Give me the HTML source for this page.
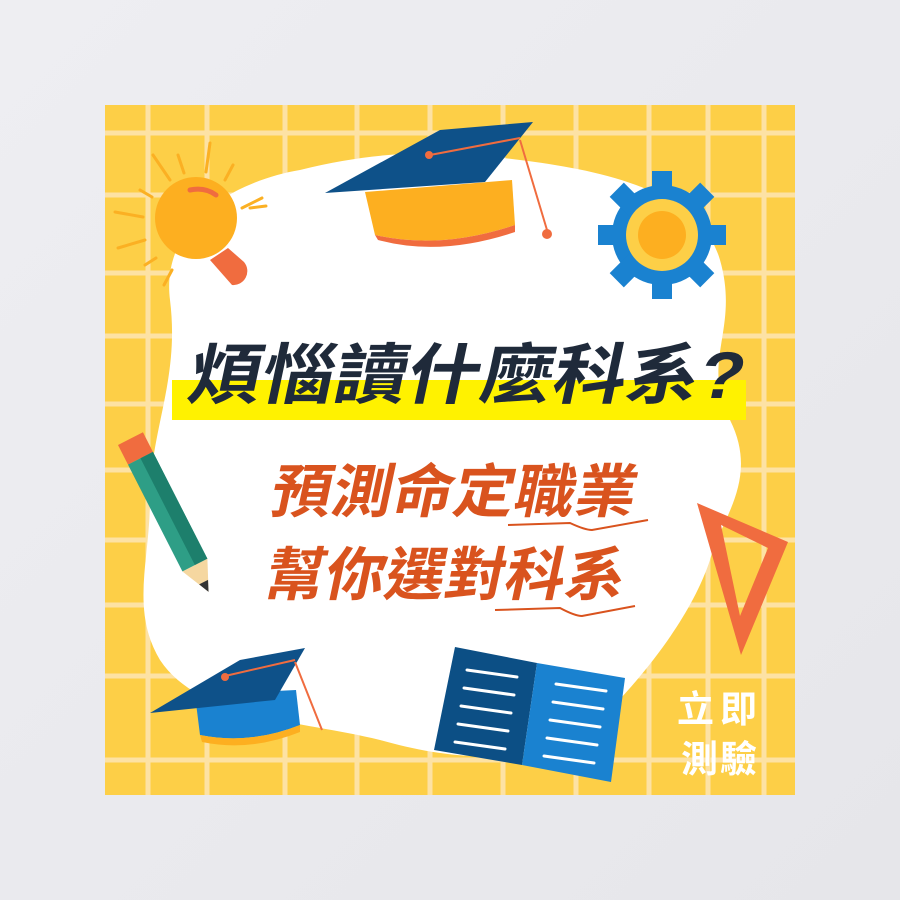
<!DOCTYPE html>
<html><head><meta charset="utf-8">
<style>
html,body{margin:0;padding:0;}
body{width:900px;height:900px;background:linear-gradient(135deg,#eeeef2,#e6e6ea);overflow:hidden;font-family:"Liberation Sans","Noto Sans CJK TC",sans-serif;}
svg{display:block}
</style></head>
<body>
<svg width="900" height="900" viewBox="0 0 900 900">
<g>
<rect x="105" y="105" width="690" height="690" fill="#fdcf47"/>
<g stroke="#fde2a4" stroke-width="5">
<line x1="148" y1="105" x2="148" y2="795"/><line x1="207" y1="105" x2="207" y2="795"/>
<line x1="285" y1="105" x2="285" y2="795"/><line x1="357" y1="105" x2="357" y2="795"/>
<line x1="430" y1="105" x2="430" y2="795"/><line x1="503" y1="105" x2="503" y2="795"/>
<line x1="576" y1="105" x2="576" y2="795"/><line x1="649" y1="105" x2="649" y2="795"/>
<line x1="708" y1="105" x2="708" y2="795"/><line x1="764" y1="105" x2="764" y2="795"/>
<line x1="105" y1="133" x2="795" y2="133"/><line x1="105" y1="195" x2="795" y2="195"/>
<line x1="105" y1="273" x2="795" y2="273"/><line x1="105" y1="336" x2="795" y2="336"/>
<line x1="105" y1="404" x2="795" y2="404"/><line x1="105" y1="470" x2="795" y2="470"/>
<line x1="105" y1="540" x2="795" y2="540"/><line x1="105" y1="605" x2="795" y2="605"/>
<line x1="105" y1="676" x2="795" y2="676"/><line x1="105" y1="760" x2="795" y2="760"/>
</g></g>
<path fill="#fff" d="M170 300 C160 220 240 180 300 170 C380 150 440 150 520 160 C600 170 700 190 720 260 C740 330 700 360 730 420 C760 480 720 520 710 560 C690 620 640 680 600 720 C540 770 450 760 380 740 C300 720 200 720 160 660 C130 610 150 560 150 500 C150 430 180 380 170 300 Z"/>
<g>
<g stroke="#fbb023" stroke-width="3" stroke-linecap="round">
<line x1="153" y1="155" x2="170" y2="180"/><line x1="178" y1="155" x2="184" y2="173"/>
<line x1="210" y1="143" x2="206" y2="172"/><line x1="233" y1="165" x2="225" y2="180"/>
<line x1="140" y1="190" x2="152" y2="197"/><line x1="115" y1="212" x2="143" y2="217"/>
<line x1="118" y1="248" x2="145" y2="240"/><line x1="145" y1="265" x2="156" y2="258"/>
<line x1="164" y1="285" x2="172" y2="270"/><line x1="242" y1="208" x2="262" y2="198"/>
<line x1="250" y1="208" x2="266" y2="206"/></g>
<path d="M210 260 L232 285 A14 14 0 0 0 244 262 L228 248 Z" fill="#f06c3f"/>
<circle cx="196" cy="218" r="41" fill="#fdaf20"/>
<path d="M190 190 Q205 187 216 195" stroke="#f06c3f" stroke-width="5" fill="none" stroke-linecap="round"/>
</g>
<g>
<path d="M365 192 L375 235 Q440 250 515 225 L512 180 Z" fill="#fdaf20"/>
<path d="M375 235 Q440 250 515 225 L515 232 Q440 257 378 240 Z" fill="#f06c3f"/>
<path d="M325 193 L440 130 L533 122 L485 182 Z" fill="#0e5189"/>
<line x1="430" y1="155" x2="520" y2="138" stroke="#f06c3f" stroke-width="2"/>
<circle cx="429" cy="155" r="4" fill="#f06c3f"/>
<line x1="520" y1="140" x2="547" y2="230" stroke="#f06c3f" stroke-width="2"/>
<circle cx="547" cy="234" r="5" fill="#f06c3f"/>
</g>
<g transform="translate(662,235)">
<g fill="#1a82d0">
<circle r="50"/>
<rect x="-10" y="-64" width="20" height="128"/><rect x="-64" y="-10" width="128" height="20"/>
<rect x="-10" y="-64" width="20" height="128" transform="rotate(45)"/><rect x="-10" y="-64" width="20" height="128" transform="rotate(-45)"/>
</g>
<circle r="36" fill="#fdcf47"/><circle r="24" fill="#fdaf20"/>
</g>
<g transform="translate(118,445) rotate(-27)">
<rect x="0" y="0" width="28" height="22" fill="#f06c3f"/>
<rect x="0" y="22" width="28" height="120" fill="#2e9e86"/>
<rect x="14" y="22" width="14" height="120" fill="#1d7f6c"/>
<path d="M0 142 L28 142 L14 172 Z" fill="#f5d7a0"/>
<path d="M9 161 L19 161 L14 172 Z" fill="#333"/>
</g>
<g>
<path d="M195 695 L200 735 Q250 745 300 725 L296 690 Z" fill="#1a82d0"/>
<path d="M200 735 Q250 745 300 725 L300 732 Q250 752 202 742 Z" fill="#fdaf20"/>
<path d="M150 713 L240 660 L305 648 L275 700 Z" fill="#0e5189"/>
<line x1="225" y1="676" x2="295" y2="660" stroke="#f06c3f" stroke-width="2"/>
<circle cx="225" cy="677" r="4" fill="#f06c3f"/>
<line x1="295" y1="662" x2="322" y2="730" stroke="#f06c3f" stroke-width="2"/>
</g>
<g>
<path d="M455 647 L537 663 L522 765 L434 750 Z" fill="#0c4f85"/>
<path d="M537 663 L625 678 L611 782 L522 765 Z" fill="#1a82d0"/>
<g stroke="#fff" stroke-width="3" stroke-linecap="round">
<line x1="467" y1="670" x2="517" y2="677"/><line x1="464" y1="688" x2="514" y2="695"/>
<line x1="461" y1="706" x2="511" y2="713"/><line x1="458" y1="724" x2="508" y2="731"/>
<line x1="455" y1="742" x2="505" y2="749"/>
<line x1="556" y1="684" x2="606" y2="691"/><line x1="553" y1="702" x2="603" y2="709"/>
<line x1="550" y1="720" x2="600" y2="727"/><line x1="547" y1="738" x2="597" y2="745"/>
<line x1="544" y1="756" x2="594" y2="763"/></g>
</g>
<g>
<path d="M697 503 L788 542 L741 655 Z M721 525 L740 616 L768 548 Z" fill="#f06c3f" fill-rule="evenodd"/>
</g>
<rect x="172" y="380" width="574" height="40" fill="#fff200"/>
<text x="0" y="0" transform="translate(185,398) skewX(-12)" font-size="66" font-weight="bold" fill="#1f2a3a" font-family="'Liberation Sans','Noto Sans CJK TC',sans-serif" textLength="555" lengthAdjust="spacingAndGlyphs">煩惱讀什麼科系?</text>
<text transform="translate(268,512) skewX(-12)" font-size="58" font-weight="bold" fill="#d9531e" font-family="'Liberation Sans','Noto Sans CJK TC',sans-serif" textLength="365" lengthAdjust="spacingAndGlyphs">預測命定職業</text>
<text transform="translate(262,595) skewX(-12)" font-size="58" font-weight="bold" fill="#d9531e" font-family="'Liberation Sans','Noto Sans CJK TC',sans-serif" textLength="360" lengthAdjust="spacingAndGlyphs">幫你選對科系</text>
<path d="M508 525 L570 523 Q585 530 592 530 L648 520" stroke="#d9531e" stroke-width="2" fill="none"/>
<path d="M495 610 L560 608 Q575 616 582 616 L635 606" stroke="#d9531e" stroke-width="2" fill="none"/>
<g>
<text x="720" y="722" text-anchor="middle" font-size="37" font-weight="bold" fill="#fff" font-family="'Liberation Sans','Noto Sans CJK TC',sans-serif" letter-spacing="6">立即</text>
<text x="720" y="772" text-anchor="middle" font-size="37" font-weight="bold" fill="#fff" font-family="'Liberation Sans','Noto Sans CJK TC',sans-serif" letter-spacing="2">測驗</text>
</g>
</svg>
</body></html>
